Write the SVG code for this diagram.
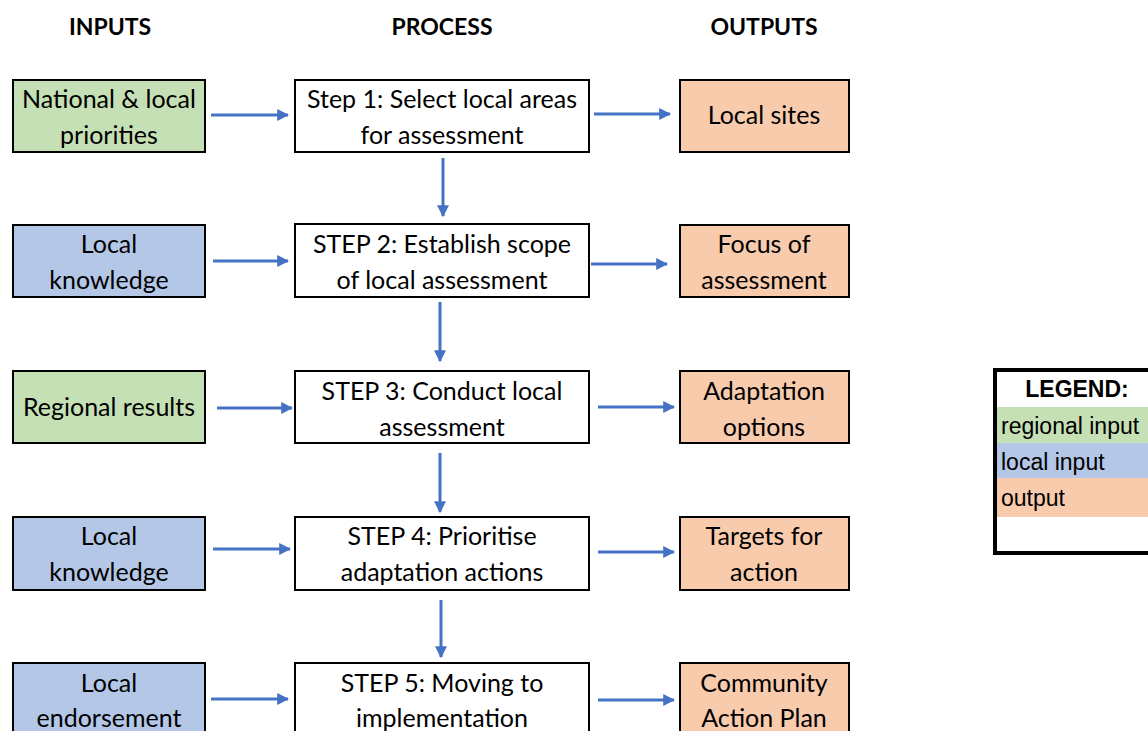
<svg xmlns="http://www.w3.org/2000/svg" width="1148" height="731" viewBox="0 0 1148 731">
<style>
.box{stroke:#000;stroke-width:2}
.g{fill:#C5E0B4}.b{fill:#B4C7E7}.o{fill:#F8CBAD}.w{fill:#fff}
.t{font-family:Lato,"Open Sans",sans-serif;font-size:25px;fill:#000;text-anchor:middle}
.h{font-family:Lato,"Open Sans",sans-serif;font-size:23px;font-weight:bold;fill:#000;text-anchor:middle}
.l{font-family:"Liberation Sans",Arial,sans-serif;font-size:23px;fill:#000}
.c{stroke:#4472C4;stroke-width:3;fill:none;marker-end:url(#ah)}
</style>
<defs>
<marker id="ah" viewBox="0 0 10 10" refX="9" refY="5" markerWidth="4" markerHeight="4" orient="auto" markerUnits="strokeWidth">
<path d="M0,0 L10,5 L0,10 z" fill="#4472C4"/>
</marker>
</defs>
<rect width="1148" height="731" fill="#fff"/>
<g id="headers">
<text class="h" x="110" y="35">INPUTS</text>
<text class="h" x="442" y="35">PROCESS</text>
<text class="h" x="764" y="35">OUTPUTS</text>
</g>
<g id="in1"><rect class="box g" x="13" y="80" width="192" height="72"/><text class="t" x="109" y="108">National &amp; local</text><text class="t" x="109" y="144">priorities</text></g>
<g id="in2"><rect class="box b" x="13" y="225" width="192" height="72"/><text class="t" x="109" y="253">Local</text><text class="t" x="109" y="289">knowledge</text></g>
<g id="in3"><rect class="box g" x="13" y="371" width="192" height="72"/><text class="t" x="109" y="416">Regional results</text></g>
<g id="in4"><rect class="box b" x="13" y="517" width="192" height="73"/><text class="t" x="109" y="545">Local</text><text class="t" x="109" y="581">knowledge</text></g>
<g id="in5"><rect class="box b" x="13" y="663" width="192" height="73"/><text class="t" x="109" y="692">Local</text><text class="t" x="109" y="727">endorsement</text></g>
<g id="p1"><rect class="box w" x="295" y="80" width="294" height="72"/><text class="t" x="442" y="108">Step 1: Select local areas</text><text class="t" x="442" y="144">for assessment</text></g>
<g id="p2"><rect class="box w" x="295" y="224" width="294" height="73"/><text class="t" x="442" y="253">STEP 2: Establish scope</text><text class="t" x="442" y="289">of local assessment</text></g>
<g id="p3"><rect class="box w" x="295" y="371" width="294" height="72"/><text class="t" x="442" y="400">STEP 3: Conduct local</text><text class="t" x="442" y="436">assessment</text></g>
<g id="p4"><rect class="box w" x="295" y="517" width="294" height="73"/><text class="t" x="442" y="545">STEP 4: Prioritise</text><text class="t" x="442" y="581">adaptation actions</text></g>
<g id="p5"><rect class="box w" x="295" y="663" width="294" height="73"/><text class="t" x="442" y="692">STEP 5: Moving to</text><text class="t" x="442" y="727">implementation</text></g>
<g id="o1"><rect class="box o" x="680" y="80" width="169" height="72"/><text class="t" x="764" y="124">Local sites</text></g>
<g id="o2"><rect class="box o" x="680" y="225" width="169" height="72"/><text class="t" x="764" y="253">Focus of</text><text class="t" x="764" y="289">assessment</text></g>
<g id="o3"><rect class="box o" x="680" y="371" width="169" height="72"/><text class="t" x="764" y="400">Adaptation</text><text class="t" x="764" y="436">options</text></g>
<g id="o4"><rect class="box o" x="680" y="517" width="169" height="73"/><text class="t" x="764" y="545">Targets for</text><text class="t" x="764" y="581">action</text></g>
<g id="o5"><rect class="box o" x="680" y="663" width="169" height="73"/><text class="t" x="764" y="692">Community</text><text class="t" x="764" y="727">Action Plan</text></g>
<g id="connectors">
<line class="c" x1="211" y1="115" x2="288" y2="115"/>
<line class="c" x1="594" y1="114" x2="670" y2="114"/>
<line class="c" x1="443" y1="158" x2="443" y2="216"/>
<line class="c" x1="213" y1="261" x2="288" y2="261"/>
<line class="c" x1="591" y1="264" x2="667" y2="264"/>
<line class="c" x1="440" y1="302" x2="440" y2="361"/>
<line class="c" x1="217" y1="408" x2="292" y2="408"/>
<line class="c" x1="598" y1="407" x2="674" y2="407"/>
<line class="c" x1="440" y1="453" x2="440" y2="512"/>
<line class="c" x1="213" y1="549" x2="290" y2="549"/>
<line class="c" x1="598" y1="552" x2="674" y2="552"/>
<line class="c" x1="441" y1="600" x2="441" y2="657"/>
<line class="c" x1="211" y1="699" x2="288" y2="699"/>
<line class="c" x1="598" y1="700" x2="674" y2="700"/>
</g>
<g id="legend">
<rect x="997" y="407" width="160" height="36" fill="#C5E0B4"/>
<rect x="997" y="443" width="160" height="35" fill="#B4C7E7"/>
<rect x="997" y="478" width="160" height="39" fill="#F8CBAD"/>
<rect x="995" y="370" width="170" height="183" fill="none" stroke="#000" stroke-width="4"/>
<text class="l" x="1077" y="397" text-anchor="middle" font-weight="bold">LEGEND:</text>
<text class="l" x="1001" y="434">regional input</text>
<text class="l" x="1001" y="470">local input</text>
<text class="l" x="1001" y="506">output</text>
</g>
</svg>
